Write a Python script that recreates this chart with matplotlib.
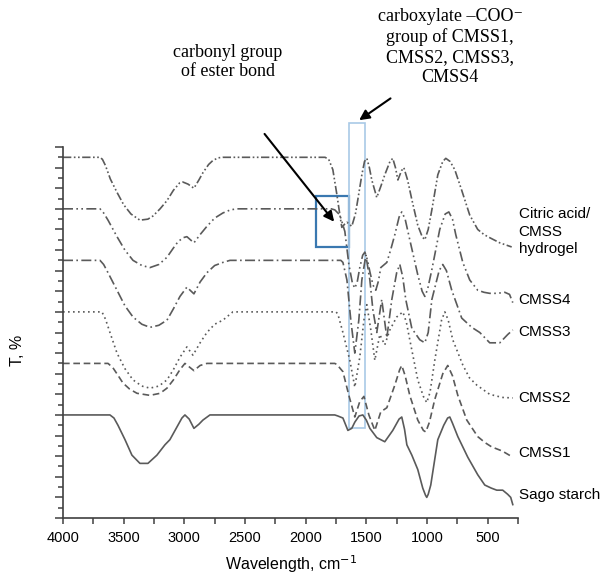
import matplotlib
matplotlib.use('Agg')
import matplotlib.pyplot as plt
from matplotlib.patches import Rectangle
from matplotlib.ticker import MultipleLocator, NullFormatter

# Spektren: Wellenzahl (cm-1) und versetzte Transmission (Skalenteile)
citric_wn = [4000, 3695, 3675, 3650, 3610, 3555, 3500, 3440, 3366, 3300, 3259, 3200, 3143, 3090, 3040,
             3012, 2970, 2921, 2880, 2847, 2800, 2764, 2720, 2682,
             1840, 1810, 1776, 1743, 1718, 1702, 1680, 1660, 1620, 1590, 1570, 1537, 1515, 1496, 1475,
             1455, 1414, 1380, 1348, 1305, 1282, 1260, 1240, 1210, 1191, 1160, 1125, 1076, 1040, 1018,
             990, 960, 911, 870, 845, 810, 771, 714, 648, 582, 530, 483, 400, 302]
citric_t = [35, 35, 34.8, 34.2, 32.9, 31.6, 30.4, 29.5, 28.9, 29.0, 29.3, 30.0, 30.8, 31.8, 32.5,
            32.6, 32.4, 32.0, 32.8, 33.5, 34.3, 34.7, 34.95, 35,
            35, 34.8, 33.8, 31.4, 29.4, 28.2, 28.5, 28.7, 28.3, 29.5, 30.9, 33.3, 34.6, 34.9, 34.0,
            32.8, 31.1, 32.2, 33.3, 34.6, 34.9, 34.0, 32.8, 33.7, 34.0, 32.8, 30.9, 28.4, 27.3, 27.0,
            28.0, 29.9, 33.3, 34.6, 34.9, 34.6, 33.8, 31.8, 29.4, 28.0, 27.5, 27.2, 26.7, 26.3]

cmss4_wn = [4000, 3695, 3665, 3629, 3555, 3490, 3423, 3350, 3283, 3210, 3143, 3090, 3053, 3010,
            2979, 2921, 2870, 2814, 2750, 2682, 2620, 2567,
            1790, 1760, 1718, 1677, 1644, 1615, 1595, 1575, 1554, 1530, 1512, 1490, 1471, 1445,
            1422, 1400, 1381, 1331, 1300, 1265, 1230, 1208, 1180, 1142, 1076, 1040, 1018, 995,
            960, 895, 850, 820, 790, 763, 705, 648, 582, 530, 483, 420, 359, 320, 293]
cmss4_t = [30, 30, 29.6, 28.9, 27.3, 26.0, 25.0, 24.5, 24.3, 24.6, 25.3, 26.2, 26.8, 27.2,
           27.3, 26.7, 27.5, 28.3, 29.1, 29.6, 29.9, 30,
           30, 29.9, 29.4, 27.8, 24.6, 22.8, 22.3, 22.9, 24.3, 25.5, 25.8, 25.0, 23.9, 22.6,
           22.1, 23.0, 24.3, 24.8, 26.0, 27.5, 29.2, 29.7, 29.0, 27.0, 23.6, 22.0, 21.5, 22.2,
           24.1, 28.0, 29.5, 29.7, 29.0, 27.5, 24.8, 23.1, 22.1, 21.9, 21.8, 21.8, 21.9, 21.7, 20.9]

cmss3_wn = [4000, 3695, 3665, 3629, 3555, 3490, 3423, 3350, 3283, 3210, 3143, 3090, 3036, 2979,
            2921, 2870, 2814, 2750, 2682, 2624,
            1710, 1693, 1660, 1628, 1595, 1562, 1537, 1504, 1471, 1446, 1414, 1373, 1331, 1290,
            1250, 1224, 1200, 1175, 1125, 1060, 1018, 990, 960, 900, 870, 840, 796, 714, 631, 565,
            483, 400, 335, 293]
cmss3_t = [25, 25, 24.6, 23.8, 22.1, 20.6, 19.5, 18.8, 18.5, 18.7, 19.2, 20.3, 21.5, 22.4,
           21.75, 22.9, 23.8, 24.5, 24.8, 25,
           25, 24.8, 23.1, 19.2, 16.0, 19.2, 23.1, 25.5, 23.1, 20.2, 18.0, 21.2, 17.5, 21.2,
           23.8, 24.6, 23.4, 21.2, 18.4, 17.3, 17.0, 18.0, 21.2, 24.0, 24.6, 24.0, 22.1, 19.4,
           18.5, 18.0, 17.0, 17.0, 17.8, 18.25]

cmss2_wn = [4000, 3679, 3650, 3613, 3555, 3490, 3423, 3350, 3283, 3210, 3143, 3090, 3036, 2979,
            2929, 2870, 2814, 2750, 2682, 2600,
            1750, 1735, 1693, 1636, 1595, 1554, 1520, 1496, 1463, 1430, 1389, 1348, 1306, 1250,
            1199, 1170, 1142, 1076, 1030, 1002, 975, 936, 880, 853, 825, 788, 705, 650, 590, 483,
            380, 293]
cmss2_t = [20, 20, 19.3, 18.0, 16.0, 14.5, 13.4, 12.8, 12.6, 12.8, 13.4, 14.4, 15.6, 16.6,
           15.8, 17.0, 18.0, 18.8, 19.2, 20,
           20, 19.8, 18.0, 15.3, 12.7, 15.6, 19.2, 20.7, 18.25, 15.3, 17.8, 16.8, 18.25, 19.5,
           20.0, 19.0, 17.3, 13.4, 11.8, 11.2, 12.2, 15.3, 19.2, 20.0, 19.2, 17.3, 14.85, 13.6,
           12.9, 12.0, 11.7, 11.65]

cmss1_wn = [4000, 3629, 3590, 3550, 3506, 3450, 3390, 3283, 3200, 3143, 3090, 3036, 2995, 2921,
            2870, 2814,
            1760, 1743, 1693, 1644, 1595, 1554, 1520, 1479, 1430, 1381, 1331, 1265, 1225, 1208,
            1180, 1142, 1076, 1030, 1010, 980, 936, 870, 829, 790, 746, 672, 582, 520, 467, 380,
            293]
cmss1_t = [15, 15, 14.6, 13.9, 13.1, 12.5, 12.1, 11.9, 12.1, 12.6, 13.4, 14.4, 15, 14.3,
           14.8, 15,
           15, 14.9, 14.2, 11.9, 9.8, 11.3, 11.8, 10.0, 8.5, 10.3, 10.7, 12.9, 14.4, 14.8,
           13.8, 11.9, 9.5, 8.5, 8.35, 9.3, 11.5, 14.0, 14.8, 13.8, 11.9, 9.5, 7.9, 7.3, 6.9,
           6.5, 5.9]

sago_wn = [4000, 3613, 3580, 3547, 3489, 3432, 3366, 3300, 3226, 3160, 3119, 3053, 3020, 2995,
           2960, 2921, 2880, 2847, 2789,
           1760, 1735, 1693, 1652, 1620, 1595, 1560, 1529, 1500, 1471, 1414, 1348, 1282, 1230, 1208,
           1185, 1166, 1125, 1076, 1035, 1012, 1002, 990, 969, 911, 862, 830, 812, 790, 746, 664,
           582, 524, 470, 425, 376, 335, 310, 293]
sago_t = [10, 10, 9.7, 9.0, 7.6, 6.1, 5.3, 5.3, 6.1, 7.1, 7.6, 9.0, 9.7, 10,
          9.6, 8.7, 9.1, 9.5, 10,
          10, 9.9, 9.7, 8.5, 8.7, 9.3, 9.9, 10.0, 9.5, 8.7, 7.8, 7.4, 8.5, 9.6, 9.8,
          8.6, 7.1, 6.1, 4.7, 2.9, 2.2, 2.0, 2.3, 3.2, 7.6, 9.0, 9.7, 9.8, 9.2, 7.9, 5.9,
          4.2, 3.2, 2.9, 2.7, 2.7, 2.3, 2.0, 1.3]

labels = ['Citric acid/\nCMSS\nhydrogel', 'CMSS4', 'CMSS3', 'CMSS2', 'CMSS1', 'Sago starch']
label_y = [27.8, 21.2, 18.0, 11.65, 6.3, 2.2]

series = [
    (citric_wn, citric_t, (0, (5, 1.5, 1, 1.5, 1, 1.5))),
    (cmss4_wn, cmss4_t, (0, (6, 2, 1, 2, 1, 2))),
    (cmss3_wn, cmss3_t, (0, (6, 2, 1, 2))),
    (cmss2_wn, cmss2_t, (0, (1, 2))),
    (cmss1_wn, cmss1_t, (0, (4, 2.2))),
    (sago_wn, sago_t, '-'),
]

fig = plt.figure(figsize=(6.06, 5.78), dpi=100)
ax = fig.add_axes([63 / 606, 1 - 518 / 578, (518 - 63) / 606, (518 - 147) / 578])

for wn, t, ls in series:
    ax.plot(wn, t, color='#5a5a5a', lw=1.2, linestyle=ls)

ax.set_xlim(4000, 250)
ax.set_ylim(0, 36)

for s in ['top', 'right']:
    ax.spines[s].set_visible(False)
for s in ['left', 'bottom']:
    ax.spines[s].set_color('#404040')
    ax.spines[s].set_linewidth(1.2)

ax.xaxis.set_major_locator(MultipleLocator(500))
ax.xaxis.set_minor_locator(MultipleLocator(250))
ax.yaxis.set_major_locator(MultipleLocator(2))
ax.yaxis.set_minor_locator(MultipleLocator(1))
ax.yaxis.set_major_formatter(NullFormatter())
ax.tick_params(axis='x', which='both', direction='out', length=4, width=1.1,
               color='#404040', labelsize=10.5, pad=5)
ax.tick_params(axis='y', which='major', direction='out', length=6, width=1.1, color='#404040')
ax.tick_params(axis='y', which='minor', direction='out', length=3.5, width=1.1, color='#404040')
for lab in ax.get_xticklabels():
    lab.set_family('Liberation Sans')

fig.text(291 / 606, 1 - 564 / 578, 'Wavelength, cm$^{-1}$', ha='center', va='center',
         fontsize=11.5, family='Liberation Sans')
fig.text(18 / 606, 1 - 350 / 578, 'T, %', ha='center', va='center', rotation=90,
         fontsize=11.5, family='Liberation Sans')

for txt, y in zip(labels, label_y):
    ax.text(245, y, txt, ha='left', va='center', fontsize=11, family='Liberation Sans',
            linespacing=1.35, clip_on=False)

# Markierungen
ax.add_patch(Rectangle((1644, 26.3), 272, 4.96, fill=False, edgecolor='#3a78b0',
                       lw=1.6, clip_on=False))
ax.add_patch(Rectangle((1512, 8.74), 133, 29.6, fill=False, edgecolor='#a9c9e6',
                       lw=1.2, clip_on=False))

ax.annotate('', xy=(1751, 28.54), xytext=(2353, 37.48), annotation_clip=False,
            arrowprops=dict(arrowstyle='-|>', color='black', lw=1.5, mutation_scale=15))
ax.annotate('', xy=(1578, 38.45), xytext=(1282, 40.87), annotation_clip=False,
            arrowprops=dict(arrowstyle='-|>', color='black', lw=1.5, mutation_scale=15))

fig.text(228 / 606, 1 - 62 / 578, 'carbonyl group\nof ester bond', ha='center', va='center',
         fontsize=13, family=['Liberation Serif', 'DejaVu Serif'], linespacing=1.1)
fig.text(450 / 606, 1 - 47 / 578, 'carboxylate \u2013COO\u207b\ngroup of CMSS1,\nCMSS2, CMSS3,\nCMSS4',
         ha='center', va='center', fontsize=13, family=['Liberation Serif', 'DejaVu Serif'],
         linespacing=1.22)

fig.savefig('out.png', dpi=100)
